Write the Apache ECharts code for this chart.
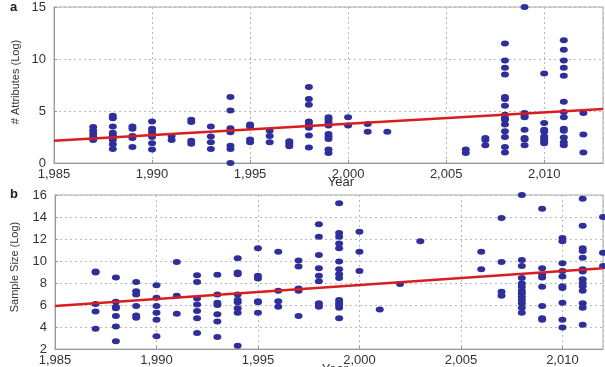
<!DOCTYPE html>
<html>
<head>
<meta charset="utf-8">
<script src="https://cdn.jsdelivr.net/npm/echarts@6/dist/echarts.min.js"></script>
<style>
  html, body { margin: 0; padding: 0; background: #fff; }
  #chart { width: 605px; height: 367px; }
</style>
</head>
<body>
<div id="chart"></div>
<script>
// panel a: # attributes (log) per publication year
const attrYears = [1987, 1988, 1989, 1990, 1991, 1992, 1993, 1994, 1995, 1996, 1997, 1998, 1999, 2000, 2001, 2002, 2006, 2007, 2008, 2009, 2010, 2011, 2012];
const attrValues = [
  [2.2, 2.5, 2.8, 3.1, 3.45],
  [1.35, 1.8, 2.2, 2.5, 2.7, 2.9, 3.5, 4.3, 4.55],
  [1.55, 2.4, 2.6, 3.3, 3.5],
  [1.3, 1.9, 2.5, 2.75, 3.0, 3.3, 4.0],
  [2.2, 2.6],
  [1.85, 2.15, 3.95, 4.15],
  [1.35, 2.0, 2.55, 3.5],
  [0, 1.35, 1.65, 2.95, 3.35, 5.05, 6.35],
  [2.0, 2.25, 3.5, 3.7],
  [2.0, 2.6, 3.1],
  [1.6, 1.85, 2.1],
  [1.5, 2.65, 3.4, 3.75, 4.0, 5.6, 6.15, 7.3],
  [0.95, 1.3, 2.3, 2.55, 2.8, 3.6, 3.9, 4.15, 4.4],
  [3.6, 4.4],
  [3.0, 3.75],
  [3.0],
  [0.95, 1.3],
  [1.7, 2.2, 2.4],
  [1.0, 1.55, 2.5, 3.05, 3.7, 4.15, 4.3, 4.65, 5.5, 6.15, 6.35, 8.5, 9.15, 9.85, 11.5],
  [1.7, 2.25, 2.4, 3.2, 4.4, 4.55, 4.8, 15.0],
  [1.9, 2.1, 2.3, 2.55, 3.0, 3.2, 3.85, 8.6],
  [1.7, 2.0, 2.45, 3.1, 3.3, 4.4, 4.9, 5.9, 8.4, 9.15, 9.85, 10.9, 11.8],
  [1.0, 2.75, 4.8]
];
const attrFit = [[1985, 2.15], [2013, 5.2]];

// panel b: sample size (log) per publication year
const sizeYears = [1987, 1988, 1989, 1990, 1991, 1992, 1993, 1994, 1995, 1996, 1997, 1998, 1999, 2000, 2001, 2002, 2003, 2006, 2007, 2008, 2009, 2010, 2011, 2012];
const sizeValues = [
  [3.85, 5.4, 6.1, 8.95, 9.05],
  [2.7, 4.05, 5.0, 5.7, 5.85, 6.3, 8.5],
  [4.85, 5.05, 5.9, 6.95, 7.25, 8.1],
  [3.15, 4.65, 5.3, 5.9, 6.65, 7.8],
  [5.2, 6.85, 9.9],
  [3.45, 4.8, 5.45, 6.05, 6.6, 8.1, 8.7],
  [3.1, 4.5, 5.15, 6.0, 6.2, 6.95, 8.75],
  [2.3, 5.3, 5.7, 6.25, 6.45, 6.95, 8.8, 8.95, 10.25],
  [5.3, 6.25, 6.35, 8.4, 8.65, 11.15],
  [5.85, 6.35, 7.3, 10.85],
  [5.0, 7.3, 7.5, 9.5, 10.05],
  [5.85, 6.0, 6.15, 8.15, 8.65, 9.35, 10.55, 12.2, 13.35],
  [4.8, 5.75, 6.0, 6.2, 6.45, 8.45, 8.8, 9.25, 9.95, 11.15, 11.6, 12.2, 12.55, 15.25],
  [9.1, 10.85, 12.65],
  [5.6],
  [7.9],
  [11.8],
  [9.25, 10.85],
  [6.85, 7.2, 9.9, 13.9],
  [5.3, 5.75, 6.15, 6.45, 6.75, 7.05, 7.3, 7.65, 7.95, 8.45, 9.55, 10.1, 16.0],
  [4.65, 4.8, 5.9, 7.65, 8.5, 8.75, 9.35, 14.75],
  [3.95, 4.65, 6.2, 7.55, 7.7, 8.6, 9.1, 9.8, 11.8, 12.1],
  [4.2, 5.75, 6.15, 7.3, 7.7, 8.0, 8.35, 9.05, 9.25, 10.3, 10.9, 11.15, 13.2, 15.65],
  [9.55, 10.75, 14.0]
];
const sizeFit = [[1985, 5.9], [2012, 9.33]];

const toPoints = (years, values) =>
  years.flatMap((yr, i) => values[i].map(v => [yr, v]));

const dotColor = '#2f2f9c';
const lineColor = '#d81e1e';
const font = 'Liberation Sans';

const xAxisBase = (idx, max) => ({
  gridIndex: idx,
  type: 'value',
  min: 1985,
  max: max,
  interval: 5,
  axisLine: { lineStyle: { color: '#999' } },
  axisTick: { inside: true, length: 3, lineStyle: { color: '#999' } },
  axisLabel: { showMaxLabel: false, color: '#333', fontSize: 13, fontFamily: font, margin: 5 },
  splitLine: { lineStyle: { type: [2, 3], color: '#b8b8b8' } }
});

const yAxisBase = (idx, min, max, interval) => ({
  gridIndex: idx,
  type: 'value',
  min: min,
  max: max,
  interval: interval,
  axisLine: { show: true, lineStyle: { color: '#999' } },
  axisTick: { show: true, inside: true, length: 3, lineStyle: { color: '#999' } },
  axisLabel: { color: '#333', fontSize: 13, fontFamily: font, margin: 8 },
  splitLine: { lineStyle: { type: [2, 3], color: '#b8b8b8' } }
});

const chart = echarts.init(document.getElementById('chart'));
chart.setOption({
  animation: false,
  grid: [
    { left: 54, top: 7, width: 549, height: 156, show: true, borderColor: '#aaa', borderWidth: 1 },
    { left: 55, top: 195, width: 548, height: 156, show: true, borderColor: '#aaa', borderWidth: 1 }
  ],
  xAxis: [xAxisBase(0, 2013), xAxisBase(1, 2012)],
  yAxis: [yAxisBase(0, 0, 15, 5), yAxisBase(1, 2, 16, 2)],
  series: [
    {
      type: 'scatter', xAxisIndex: 0, yAxisIndex: 0,
      data: toPoints(attrYears, attrValues),
      symbol: 'circle', symbolSize: [8, 6],
      itemStyle: { color: dotColor, opacity: 1 }
    },
    {
      type: 'line', xAxisIndex: 0, yAxisIndex: 0,
      data: attrFit, symbol: 'none',
      lineStyle: { color: lineColor, width: 2.5 }
    },
    {
      type: 'scatter', xAxisIndex: 1, yAxisIndex: 1,
      data: toPoints(sizeYears, sizeValues),
      symbol: 'circle', symbolSize: [8, 6],
      itemStyle: { color: dotColor, opacity: 1 }
    },
    {
      type: 'line', xAxisIndex: 1, yAxisIndex: 1,
      data: sizeFit, symbol: 'none',
      lineStyle: { color: lineColor, width: 2.5 }
    }
  ],
  graphic: [
    { type: 'text', left: 10, top: 1, style: { text: 'a', fontSize: 13, fontWeight: 'bold', fontFamily: font, fill: '#222' } },
    { type: 'text', left: 10, top: 188, style: { text: 'b', fontSize: 13, fontWeight: 'bold', fontFamily: font, fill: '#222' } },
    { type: 'text', x: 341, y: 182, style: { text: 'Year', fontSize: 13, fontFamily: font, fill: '#333', align: 'center', verticalAlign: 'middle' } },
    { type: 'text', x: 335, y: 369, style: { text: 'Year', fontSize: 13, fontFamily: font, fill: '#333', align: 'center', verticalAlign: 'middle' } },
    { type: 'text', x: 16, y: 82, rotation: Math.PI / 2, style: { text: '# Attributes (Log)', fontSize: 11, fontFamily: font, fill: '#333', align: 'center', verticalAlign: 'middle' } },
    { type: 'text', x: 15, y: 267, rotation: Math.PI / 2, style: { text: 'Sample Size (Log)', fontSize: 11, fontFamily: font, fill: '#333', align: 'center', verticalAlign: 'middle' } }
  ]
});
</script>
</body>
</html>
